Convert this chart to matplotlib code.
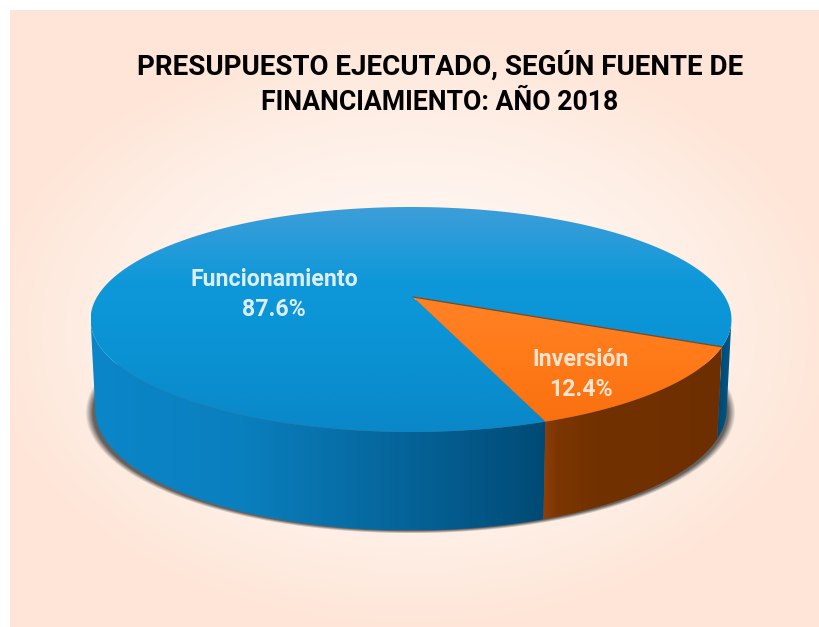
import numpy as np
import matplotlib
matplotlib.use('Agg')
import matplotlib.pyplot as plt
from matplotlib.colors import LinearSegmentedColormap
from matplotlib.patches import Polygon

# data
categories = ['Funcionamiento', 'Inversión']
shares = [87.6, 12.4]
title_lines = ['PRESUPUESTO EJECUTADO, SEGÚN FUENTE DE', 'FINANCIAMIENTO: AÑO 2018']

# geometry of the tilted pie, in pixels
CX = 411
APEX_X = 413
CY = 297
RX = 314
START = -25.0       # angle of the edge between the two slices
SIDE_RIGHT = -11.5  # silhouette angles, where the side wall begins
SIDE_LEFT = 191.5

plt.rcParams['font.family'] = ['Roboto', 'DejaVu Sans']


def project(angle_deg):
    """Perspective projection of a point on the unit circle"""
    t = np.radians(angle_deg)
    u, v = np.cos(t), np.sin(t)
    w = 1 + 0.2 * v
    return CX + RX * u / w, (CY - 48.6 * v) / w


def project_bottom(angle_deg):
    """Same point on the lower rim of the pie"""
    t = np.radians(angle_deg)
    x, y = project(angle_deg)
    w = 1 + 0.2 * np.sin(t)
    return CX + (x - CX) * 0.985, y + 88 / np.sqrt(w)


def gradient_fill(ax, points, stops, vertical, zorder):
    """Fill a polygon with a colour ramp, clipped from an image"""
    points = np.array(points)
    x0, x1 = points[:, 0].min(), points[:, 0].max()
    y0, y1 = points[:, 1].min(), points[:, 1].max()
    cmap = LinearSegmentedColormap.from_list('ramp', stops)
    ramp = np.linspace(0, 1, 256)
    data = ramp[:, None] if vertical else ramp[None, :]
    im = ax.imshow(data, cmap=cmap, extent=(x0, x1, y1, y0), aspect='auto',
                   origin='upper', zorder=zorder, interpolation='bilinear')
    im.set_clip_path(Polygon(points, transform=ax.transData))


def side_wall(a0, a1):
    angles = np.linspace(a0, a1, 120)
    top = np.array([project(a) for a in angles])
    bottom = np.array([project_bottom(a) for a in angles[::-1]])
    return np.vstack([top, bottom])


def top_face(a0, a1):
    angles = np.linspace(a0, a1, 400)
    return np.vstack([[[APEX_X, CY]], [project(a) for a in angles]])


fig = plt.figure(figsize=(8.2, 6.27), dpi=100, facecolor='white')
ax = fig.add_axes([0, 0, 1, 1])

# peach panel, paler towards the middle
xx, yy = np.meshgrid(np.arange(10, 820), np.arange(10, 627))
r = np.clip(np.hypot((xx - 410) / 430, (yy - 330) / 300), 0, 1) ** 2
panel = np.zeros(xx.shape + (3,))
for i, (c0, c1) in enumerate(zip((255, 248, 243), (254, 229, 215))):
    panel[..., i] = (c0 + (c1 - c0) * r) / 255
ax.imshow(panel, extent=(10, 820, 627, 10), aspect='auto', zorder=0)

# soft shadow under the pie
xs, ys = np.meshgrid(np.arange(60, 760), np.arange(300, 560))
dist = np.hypot((xs - 410) / 325, (ys - 412) / 121)
shadow = np.zeros(xs.shape + (4,))
shadow[..., :3] = 0.25
shadow[..., 3] = np.clip((1 - dist) * 35, 0, 0.8)
ax.imshow(shadow, extent=(60, 760, 560, 300), aspect='auto', zorder=1)

# slice edges come from the shares
sweep_inv = 360 * shares[1] / sum(shares)
end_inv = START - sweep_inv
end_fun = end_inv + 360

# side walls
gradient_fill(ax, side_wall(SIDE_LEFT, end_fun),
              ['#0b86c9', '#0a7fbe', '#06669c', '#004a75'], False, 2)
gradient_fill(ax, side_wall(START, SIDE_RIGHT), ['#00466f', '#005a8c'], False, 2)
gradient_fill(ax, side_wall(end_inv, START),
              [(0, '#8f3f06'), (0.08, '#7c3603'), (0.3, '#723100'), (1, '#6e2f00')], False, 2)

# top faces
gradient_fill(ax, top_face(START, end_fun),
              ['#3d9ed8', '#0e98da', '#0a92d3', '#0a87c8'], True, 3)
gradient_fill(ax, top_face(end_inv, START),
              ['#ff8226', '#ff7a18', '#f97010'], True, 3)
xr, yr = project(START)
ax.plot([APEX_X, xr], [CY, yr], color='#7a4a22', lw=0.9, zorder=4)

# labels
ax.text(440, 66, title_lines[0], ha='center', va='center', fontsize=20,
        fontweight='bold', color='black', zorder=5)
ax.text(440, 102, title_lines[1], ha='center', va='center', fontsize=19.2,
        fontweight='bold', color='black', zorder=5)
ax.text(274, 280, categories[0], ha='center', va='center', fontsize=16.7,
        fontweight='bold', color='#dceefa', zorder=5)
ax.text(274, 310, '{}%'.format(shares[0]), ha='center', va='center', fontsize=16.7,
        fontweight='bold', color='#dceefa', zorder=5)
ax.text(581, 360, categories[1], ha='center', va='center', fontsize=16.7,
        fontweight='bold', color='#ffe3cf', zorder=5)
ax.text(581, 389, '{}%'.format(shares[1]), ha='center', va='center', fontsize=16.7,
        fontweight='bold', color='#ffe3cf', zorder=5)

ax.set_xlim(0, 820)
ax.set_ylim(627, 0)
ax.axis('off')
fig.savefig('out.png', dpi=100, facecolor='white')
